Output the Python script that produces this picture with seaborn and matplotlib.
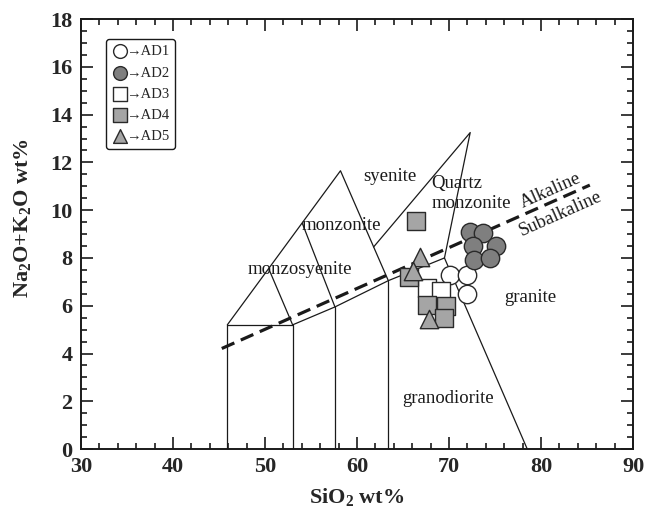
import matplotlib
matplotlib.use("Agg")
import matplotlib.pyplot as plt
import seaborn as sns
import pandas as pd
from matplotlib.ticker import MultipleLocator

# sample data (SiO2, Na2O+K2O)
ad1_x = [70.1, 71.9, 71.9]
ad1_y = [7.3, 7.3, 6.5]
ad2_x = [72.3, 73.7, 75.1, 72.6, 72.7, 74.5]
ad2_y = [9.1, 9.05, 8.5, 8.5, 7.9, 8.0]
ad3_x = [67.6, 69.1]
ad3_y = [6.75, 6.6]
ad4_x = [66.4, 65.7, 67.6, 69.7, 69.5]
ad4_y = [9.55, 7.2, 6.05, 6.0, 5.5]
ad5_x = [66.8, 66.1, 67.8]
ad5_y = [8.05, 7.45, 5.45]

groups = ["AD1", "AD2", "AD3", "AD4", "AD5"]
markers = ["o", "o", "s", "s", "^"]
fills = ["white", "#7f7f7f", "white", "#a5a5a5", "#a5a5a5"]

# field boundaries (SiO2, Na2O+K2O)
field_lines = [
    [(45.9, 0), (45.9, 5.2), (53.0, 5.2), (53.0, 0)],
    [(53.0, 5.2), (57.6, 5.95), (63.4, 7.05), (69.5, 8.0)],
    [(57.6, 0), (57.6, 5.95)],
    [(63.4, 0), (63.4, 7.05)],
    [(45.9, 5.2), (58.2, 11.65), (63.4, 7.05)],
    [(50.4, 7.55), (53.0, 5.2)],
    [(54.05, 9.45), (57.6, 5.95)],
    [(61.8, 8.46), (72.3, 13.25), (69.5, 8.0), (78.5, 0)],
]
alk_x = [45.3, 85.3]
alk_y = [4.21, 11.05]

field_names = ["monzosyenite", "monzonite", "syenite", "granite", "granodiorite"]
field_x = [53.8, 58.3, 63.6, 78.8, 69.9]
field_y = [7.5, 9.37, 11.4, 6.33, 2.12]

sns.set_theme(style="ticks")
plt.rcParams["font.family"] = ["Liberation Serif", "DejaVu Serif"]
plt.rcParams["mathtext.default"] = "regular"

fig, ax = plt.subplots(figsize=(6.46, 5.15), dpi=100)
fig.subplots_adjust(left=0.1254, right=0.98, bottom=0.128, top=0.963)

for pts in field_lines:
    xs, ys = zip(*pts)
    ax.plot(xs, ys, color="#1a1a1a", lw=0.9, zorder=1)

ax.plot(alk_x, alk_y, color="#1a1a1a", lw=2.3, dashes=(4.3, 2.2), zorder=2)

for name, fx, fy in zip(field_names, field_x, field_y):
    ax.text(fx, fy, name, fontsize=13.5, ha="center", va="center", color="#1a1a1a")
ax.text(68.1, 11.13, "Quartz", fontsize=13.5, ha="left", va="center", color="#1a1a1a")
ax.text(68.1, 10.3, "monzonite", fontsize=13.5, ha="left", va="center", color="#1a1a1a")
ax.text(81.0, 10.8, "Alkaline", fontsize=13.5, ha="center", va="center",
        rotation=24, color="#1a1a1a")
ax.text(82.1, 9.85, "Subalkaline", fontsize=13.5, ha="center", va="center",
        rotation=24, color="#1a1a1a")

xs_all = [ad1_x, ad2_x, ad3_x, ad4_x, ad5_x]
ys_all = [ad1_y, ad2_y, ad3_y, ad4_y, ad5_y]
for g, m, c, gx, gy in zip(groups, markers, fills, xs_all, ys_all):
    df = pd.DataFrame({"SiO2": gx, "alk": gy})
    sns.scatterplot(data=df, x="SiO2", y="alk", marker=m, s=175 if m != "s" else 165,
                    color=c, edgecolor="#2a2a2a", linewidth=1.0,
                    label="\u2192" + g, ax=ax, zorder=5)

ax.set_xlim(30, 90)
ax.set_ylim(0, 18)
ax.xaxis.set_major_locator(MultipleLocator(10))
ax.xaxis.set_minor_locator(MultipleLocator(2))
ax.yaxis.set_major_locator(MultipleLocator(2))
ax.yaxis.set_minor_locator(MultipleLocator(0.5))
ax.tick_params(which="both", direction="in", top=True, right=True,
               color="#1a1a1a", width=1.2)
ax.tick_params(which="major", length=8.5, labelsize=16, pad=6)
ax.tick_params(which="minor", length=4.3)
for lab in ax.get_xticklabels() + ax.get_yticklabels():
    lab.set_fontweight("bold")
for sp in ax.spines.values():
    sp.set_linewidth(1.4)
    sp.set_color("#1a1a1a")

ax.set_xlabel("SiO$_2$ wt%", fontsize=16, fontweight="bold")
ax.set_ylabel("Na$_2$O+K$_2$O wt%", fontsize=16, fontweight="bold")
ax.xaxis.set_label_coords(0.5, -0.085)
ax.yaxis.set_label_coords(-0.087, 0.537)

leg = ax.legend(loc="upper left", bbox_to_anchor=(0.045, 0.953), fontsize=10.5,
                frameon=True, fancybox=True, edgecolor="#1a1a1a",
                handletextpad=-0.1, handlelength=1.1, labelspacing=0.55,
                borderpad=0.4, borderaxespad=0.0, markerscale=0.75)
leg.get_frame().set_linewidth(1.0)
leg.get_frame().set_alpha(1)

fig.savefig("out.png", dpi=100)
